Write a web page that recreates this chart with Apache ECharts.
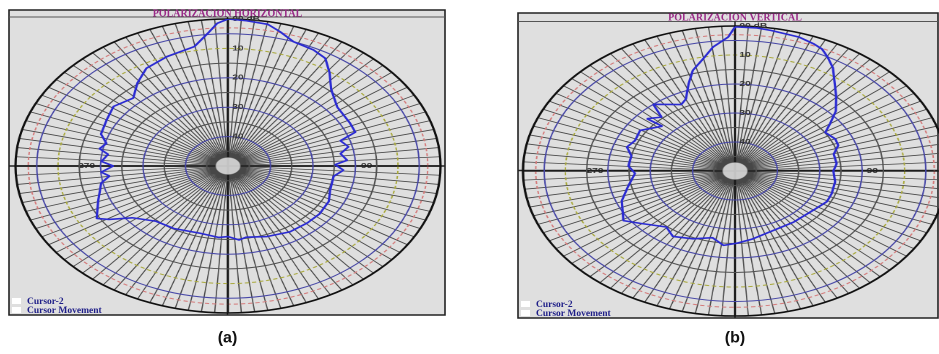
<!DOCTYPE html>
<html>
<head>
<meta charset="utf-8">
<script src="https://cdn.jsdelivr.net/npm/echarts@6/dist/echarts.min.js"></script>
<style>
  html, body { margin: 0; padding: 0; background: #fff; overflow: hidden; }
  #page { position: relative; width: 939px; height: 354px; overflow: hidden; }
  #frame { position: absolute; left: 0; top: 0; width: 939px; height: 354px; }
  .polar { position: absolute; width: 300px; height: 300px; transform-origin: 50% 50%; }
</style>
</head>
<body>
<div id="page">
  <div id="frame"></div>
  <div id="polarH" class="polar"></div>
  <div id="polarV" class="polar"></div>
</div>
<script>
// radial scale in dB (centre .. rim)
const dbMin = -50
const dbMax = 0
const dashRings = [-3, -10]          // red / yellow dashed rings
const angleLabels = { 90: '90', 270: '270' }

// (a) horizontal polarisation: angle (deg, clockwise from top) and level (dB)
const hAngles = [0, 5, 11, 15, 20, 27, 32, 37, 43, 52, 63, 69, 72, 77, 81, 86, 89, 93, 98, 109,
  117, 127, 136, 147, 159, 170, 174, 180, 185, 196, 211, 222, 232, 237, 240, 249, 259, 263, 266, 270,
  273, 278, 281, 285, 290, 299, 307, 316, 323, 330, 339, 349, 354, 357, 360]
const hDb = [0, -0.4, -0.9, -2.7, -5, -5.7, -6.8, -10.3, -14.4, -17.4, -17.8, -17.9, -22.2, -20.9, -23.2, -21.9, -24.8, -22.8, -24.9, -24.6,
  -23.4, -23, -23.1, -23.3, -24.3, -25.4, -24.7, -26, -25.6, -26.2, -25.2, -24.7, -21.4, -16.6, -14.3, -17.3, -19.6, -21.9, -20.1, -23,
  -20.2, -21.5, -19.2, -20.4, -18.2, -17.4, -16.3, -17.9, -14.6, -11.6, -10.1, -8.6, -4.6, -1.4, 0]

// (b) vertical polarisation
const vAngles = [0, 6, 10, 18, 23, 26, 29, 33, 38, 43, 49, 54, 58, 65, 70, 76, 84, 90, 99, 109,
  116, 126, 142, 156, 170, 179, 186, 193, 203, 213, 220, 231, 237, 249, 258, 268, 274, 282, 288, 294,
  302, 312, 311, 317, 320, 331, 335, 340, 344, 349, 353, 358, 360]
const vDb = [-0.3, -0.4, -0.8, -1.4, -2.4, -3.2, -5, -7.6, -11.8, -15, -18.5, -22.3, -24.9, -23.9, -24.1, -26, -25.9, -26.8, -26.1, -25.9,
  -25.9, -27.1, -27.6, -27.6, -26.2, -25.1, -24.2, -26.4, -24.6, -23.1, -24.8, -21.3, -18.6, -21.4, -24.2, -26.4, -24.8, -25, -23.2, -24.2,
  -23.6, -26.9, -22.5, -24.6, -20, -23.8, -22.6, -18, -13.9, -10.6, -7, -3.8, -0.3]

const panels = [
  { x: 9, y: 10, w: 436, h: 305, bar: 17, cx: 227.5, cy: 166, R: 147, rx: 212.5,
    title: 'POLARIZACION HORIZONTAL', caption: '(a)', el: 'polarH', angles: hAngles, db: hDb },
  { x: 518, y: 13, w: 420, h: 305, bar: 21.5, cx: 735, cy: 170.5, R: 145, rx: 212,
    title: 'POLARIZACION VERTICAL', caption: '(b)', el: 'polarV', angles: vAngles, db: vDb }
]

// frame, titles, legend and captions (not stretched)
const frameChart = echarts.init(document.getElementById('frame'), null, { devicePixelRatio: 2 })
const graphics = []
panels.forEach(p => {
  graphics.push(
    { type: 'rect', shape: { x: p.x, y: p.y, width: p.w, height: p.h },
      style: { fill: '#dfdfdf', stroke: '#222', lineWidth: 1.6 } },
    { type: 'line', shape: { x1: p.x, y1: p.bar, x2: p.x + p.w, y2: p.bar }, style: { stroke: '#555', lineWidth: 1 } },
    { type: 'line', shape: { x1: p.x, y1: p.cy, x2: p.x + p.w, y2: p.cy }, style: { stroke: '#222', lineWidth: 1.5 } },
    { type: 'line', shape: { x1: p.cx, y1: p.bar, x2: p.cx, y2: p.y + p.h }, style: { stroke: '#222', lineWidth: 1.5 } },
    { type: 'text', x: p.cx, y: (p.y + p.bar) / 2 + 0.5,
      style: { text: p.title, fill: '#9a2a88', font: 'bold 10px "Liberation Serif"', align: 'center', verticalAlign: 'middle' } },
    { type: 'rect', shape: { x: p.x + 3, y: p.y + p.h - 17, width: 9, height: 6 }, style: { fill: '#fff' } },
    { type: 'rect', shape: { x: p.x + 3, y: p.y + p.h - 8, width: 9, height: 6 }, style: { fill: '#fff' } },
    { type: 'text', x: p.x + 18, y: p.y + p.h - 13.5,
      style: { text: 'Cursor-2', fill: '#1e1e88', font: 'bold 9.5px "Liberation Serif"', verticalAlign: 'middle' } },
    { type: 'text', x: p.x + 18, y: p.y + p.h - 4.5,
      style: { text: 'Cursor Movement', fill: '#1e1e88', font: 'bold 9.5px "Liberation Serif"', verticalAlign: 'middle' } },
    { type: 'text', x: p.cx, y: 338,
      style: { text: p.caption, fill: '#111', font: 'bold 16px "Liberation Sans"', align: 'center', verticalAlign: 'middle' } }
  )
})
frameChart.setOption({ animation: false, graphic: graphics })

// ring colours by tick index (-50 .. 0 step 5)
const ringColors = ['transparent', '#505050', '#4646a6', '#505050', '#4646a6', '#505050',
  '#4646a6', '#505050', 'transparent', '#4646a6', '#111']

function polarOption(p) {
  const hidden = { show: false }
  const dashPolar = dashRings.map(d => ({
    center: ['50%', '50%'], radius: p.R * (d - dbMin) / (dbMax - dbMin)
  }))
  const dashAngle = dashRings.map((d, i) => ({
    polarIndex: 2 + i, type: 'value', min: 0, max: 360,
    axisLine: { lineStyle: { color: i === 0 ? '#d47a7a' : '#a9a93c', width: 1, type: [3, 2] } },
    axisTick: hidden, axisLabel: hidden, splitLine: hidden
  }))
  const dashRadius = dashRings.map((d, i) => ({ polarIndex: 2 + i, show: false }))
  return {
    animation: false,
    polar: [
      { center: ['50%', '50%'], radius: p.R },
      { center: ['50%', '50%'], radius: p.R }
    ].concat(dashPolar),
    angleAxis: [
      { polarIndex: 0, type: 'value', min: 0, max: 360, interval: 3.6, startAngle: 90, clockwise: true,
        axisLine: { lineStyle: { color: '#111', width: 1.6 } },
        axisTick: hidden, axisLabel: hidden,
        splitLine: { lineStyle: { color: '#474747', width: 0.8 } } },
      { polarIndex: 1, type: 'value', min: 0, max: 360, interval: 90, startAngle: 90, clockwise: true, z: 1,
        axisLine: hidden, axisTick: hidden,
        axisLabel: { margin: -55, color: '#333', fontSize: 7, fontWeight: 'bold', fontFamily: 'Liberation Sans',
          padding: [7, 0, 0, 0], formatter: v => angleLabels[Math.round(v)] || '' },
        splitLine: { lineStyle: { color: '#1a1a1a', width: 1.3 } } }
    ].concat(dashAngle),
    radiusAxis: [
      { polarIndex: 0, type: 'value', min: dbMin, max: dbMax, interval: 5, z: 2,
        axisLine: hidden, axisTick: hidden,
        axisLabel: { margin: -3, align: 'left', color: '#333', fontSize: 7, fontWeight: 'bold', fontFamily: 'Liberation Sans',
          formatter: v => v === dbMax ? '00 dB' : (v % 10 === 0 && v > dbMin ? String(-v) : '') },
        splitLine: { lineStyle: { color: ringColors, width: 1 } } },
      { polarIndex: 1, show: false }
    ].concat(dashRadius),
    series: [
      { type: 'line', coordinateSystem: 'polar', polarIndex: 0, showSymbol: false, z: 3,
        lineStyle: { color: '#2b2bd2', width: 1.6 },
        data: p.angles.map((a, i) => [p.db[i], a]) },
      { type: 'scatter', coordinateSystem: 'polar', polarIndex: 0, z: 4, symbolSize: 17, silent: true,
        itemStyle: { color: '#ececec', borderColor: '#888', borderWidth: 0.5 },
        data: [[dbMin, 0]] }
    ]
  }
}

panels.forEach(p => {
  const el = document.getElementById(p.el)
  el.style.left = (p.cx - 150) + 'px'
  el.style.top = (p.cy - 150) + 'px'
  el.style.transform = 'scaleX(' + (p.rx / p.R) + ')'
  const chart = echarts.init(el, null, { devicePixelRatio: 2 })
  chart.setOption(polarOption(p))
})
</script>
</body>
</html>
